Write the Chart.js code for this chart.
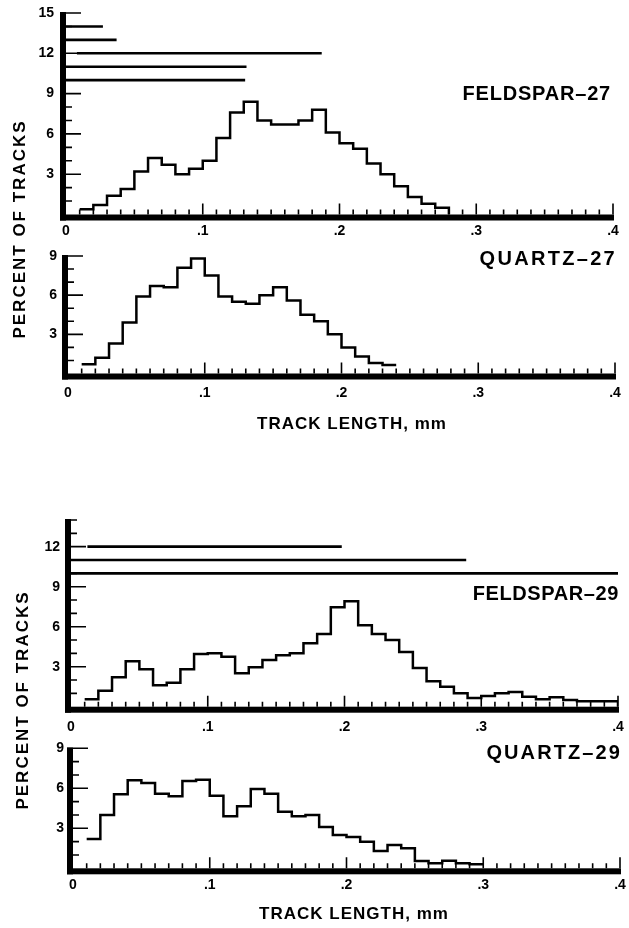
<!DOCTYPE html>
<html><head><meta charset="utf-8">
<script src="https://cdn.jsdelivr.net/npm/chart.js@4.4.1/dist/chart.umd.min.js"></script>
<style>
html,body{margin:0;padding:0;background:#fff;}
body{width:629px;height:928px;position:relative;overflow:hidden;font-family:"Liberation Sans",Arial,sans-serif;}
canvas{position:absolute;left:0;}
.t{position:absolute;font-weight:bold;color:#000;white-space:nowrap;line-height:1;}
.r{transform:translateY(-50%);}
.c{transform:translate(-50%,-50%);}
.v{transform:translate(-50%,-50%) rotate(-90deg);}
</style></head><body>
<canvas id="c1" width="629" height="260" style="top:0px"></canvas>
<canvas id="c2" width="629" height="190" style="top:230px"></canvas>
<canvas id="c3" width="629" height="260" style="top:490px"></canvas>
<canvas id="c4" width="629" height="190" style="top:720px"></canvas>

<div class="t r" style="right:18px;top:93px;font-size:20px;letter-spacing:0.8px;">FELDSPAR–27</div>
<div class="t r" style="right:12px;top:258px;font-size:20px;letter-spacing:2.3px;">QUARTZ–27</div>
<div class="t r" style="right:10px;top:593px;font-size:20px;letter-spacing:0.6px;">FELDSPAR–29</div>
<div class="t r" style="right:7px;top:752px;font-size:20px;letter-spacing:2.1px;">QUARTZ–29</div>
<div class="t c" style="left:352px;top:423px;font-size:17px;letter-spacing:1px;">TRACK LENGTH, mm</div>
<div class="t c" style="left:354px;top:913px;font-size:17px;letter-spacing:1px;">TRACK LENGTH, mm</div>
<div class="t v" style="left:19px;top:229px;font-size:17px;letter-spacing:2px;">PERCENT OF TRACKS</div>
<div class="t v" style="left:22px;top:700px;font-size:17px;letter-spacing:2px;">PERCENT OF TRACKS</div>

<script>
// Bin edges (track length, mm); bin i spans binEdges[i]..binEdges[i+1]
const binEdges = [0.01,0.02,0.03,0.04,0.05,0.06,0.07,0.08,0.09,0.10,
                  0.11,0.12,0.13,0.14,0.15,0.16,0.17,0.18,0.19,0.20,
                  0.21,0.22,0.23,0.24,0.25,0.26,0.27,0.28,0.29,0.30,
                  0.31,0.32,0.33,0.34,0.35,0.36,0.37,0.38,0.39,0.40];
const xTickLabels = ['0', '.1', '.2', '.3', '.4'];

// Percent of tracks per bin
const feldspar27 = [0.4,0.7,1.4,1.9,3.2,4.2,3.7,3.0,3.4,4.0,5.7,7.6,8.4,7.0,6.7,6.7,7.0,7.8,6.1,5.3,4.9,3.8,3.0,2.1,1.3,0.8,0.5];
const quartz27   = [0.7,1.2,2.3,3.9,5.9,6.7,6.6,8.1,8.8,7.5,5.9,5.5,5.35,6.0,6.6,5.6,4.5,4.0,3.0,2.0,1.3,0.8,0.65];
const feldspar29 = [0.55,1.2,2.2,3.4,2.8,1.6,1.8,2.8,3.95,4.0,3.75,2.5,2.95,3.5,3.85,4.0,4.75,5.45,7.45,7.9,6.1,5.45,5.0,4.1,2.9,1.9,1.5,1.0,0.65,0.8,1.0,1.1,0.75,0.55,0.7,0.5,0.4,0.4,0.4];
const quartz29   = [2.2,4.0,5.55,6.6,6.4,5.6,5.4,6.55,6.65,5.45,3.9,4.65,5.95,5.6,4.25,3.9,4.0,3.1,2.5,2.35,2.0,1.3,1.75,1.5,0.55,0.37,0.57,0.37,0.3];

// Horizontal range bars (level in percent units, from/to in mm)
const rangeLevels27 = [14, 13, 12, 11, 10];
const rangeFrom27   = [0, 0, 0.008, 0, 0];
const rangeTo27     = [0.027, 0.037, 0.187, 0.132, 0.131];
const rangeLevels29 = [12, 11, 10];
const rangeFrom29   = [0.012, 0, 0];
const rangeTo29     = [0.198, 0.289, 0.40];

const FONT = '"Liberation Sans", Arial, sans-serif';

const axisPlugin = {
  id: 'axisPlugin',
  afterDatasetsDraw(chart) {
    const {ctx} = chart; const x = chart.scales.x, y = chart.scales.y;
    const X0 = x.getPixelForValue(0), X1 = x.getPixelForValue(0.4);
    const Y0 = y.getPixelForValue(0), YT = y.getPixelForValue(y.max);
    ctx.save();
    ctx.fillStyle = '#000';
    ctx.fillRect(X0 - 6, Y0, X1 - X0 + 7, 6);
    ctx.fillRect(X0 - 6, YT - 1, 6, Y0 - YT + 7);
    ctx.strokeStyle = '#000'; ctx.lineWidth = 1.6;
    ctx.beginPath();
    y.ticks.forEach(t => {
      if (t.value <= 0) return;
      const py = y.getPixelForValue(t.value);
      const len = (t.value % 3 === 0) ? 15 : 6;
      ctx.moveTo(X0, py); ctx.lineTo(X0 + len, py);
    });
    x.ticks.forEach(t => {
      const k = Math.round(t.value * 100);
      if (k <= 0) return;
      const px = x.getPixelForValue(t.value);
      const len = (k % 10 === 0) ? 11 : 5;
      ctx.moveTo(px, Y0); ctx.lineTo(px, Y0 - len);
    });
    ctx.stroke();
    ctx.restore();
  }
};

function histPoints(values, drop) {
  const pts = values.map((v, i) => ({x: binEdges[i], y: v}));
  const n = values.length;
  pts.push({x: binEdges[n], y: values[n - 1]});
  if (drop) pts.push({x: binEdges[n], y: 0});
  return pts;
}

function makePanel(id, cfg) {
  const datasets = [{
    data: histPoints(cfg.values, cfg.drop),
    stepped: 'before', borderColor: '#000', borderWidth: 2.5, pointRadius: 0, fill: false
  }];
  (cfg.levels || []).forEach((lv, j) => {
    datasets.push({
      data: [{x: cfg.from[j], y: lv}, {x: cfg.to[j], y: lv}],
      borderColor: '#000', borderWidth: 2.6, pointRadius: 0, fill: false
    });
  });
  const tickFont = {family: FONT, size: 14, weight: 'bold'};
  new Chart(document.getElementById(id), {
    type: 'line',
    data: {datasets},
    options: {
      responsive: false, animation: false, devicePixelRatio: 1,
      layout: {padding: {left: 0, right: 629 - cfg.x04, top: cfg.yTop - cfg.top, bottom: cfg.top + cfg.h - cfg.y0 - 30}},
      plugins: {legend: {display: false}, tooltip: {enabled: false}},
      elements: {line: {tension: 0}},
      scales: {
        x: {
          type: 'linear', min: 0, max: 0.4,
          afterFit: s => { s.height = 30; },
          grid: {display: false, drawTicks: true, tickLength: cfg.xPad}, border: {display: false},
          ticks: {stepSize: 0.01, autoSkip: false, maxRotation: 0, padding: 0, color: '#000', font: tickFont,
            callback: v => { const k = Math.round(v * 100); return k % 10 === 0 ? xTickLabels[k / 10] : ''; }}
        },
        y: {
          type: 'linear', min: 0, max: cfg.ymax,
          afterFit: s => { s.width = cfg.x0; },
          grid: {display: false, drawTicks: true, tickLength: cfg.yPad}, border: {display: false},
          ticks: {stepSize: 1, autoSkip: false, padding: 0, color: '#000', font: tickFont,
            callback: v => (v > 0 && v % 3 === 0) ? String(v) : ''}
        }
      }
    },
    plugins: [axisPlugin]
  });
}

makePanel('c1', {top: 0, h: 260, x0: 66, x04: 613, yTop: 13, y0: 214.5, ymax: 15, xPad: 8, yPad: 12,
  values: feldspar27, drop: true, levels: rangeLevels27, from: rangeFrom27, to: rangeTo27});
makePanel('c2', {top: 230, h: 190, x0: 68, x04: 615, yTop: 256, y0: 373.5, ymax: 9, xPad: 11, yPad: 11,
  values: quartz27, drop: false});
makePanel('c3', {top: 490, h: 260, x0: 71, x04: 618, yTop: 520, y0: 706.7, ymax: 14, xPad: 12, yPad: 11,
  values: feldspar29, drop: true, levels: rangeLevels29, from: rangeFrom29, to: rangeTo29});
makePanel('c4', {top: 720, h: 190, x0: 73, x04: 620, yTop: 748.3, y0: 868.3, ymax: 9, xPad: 8, yPad: 9,
  values: quartz29, drop: false});
</script>
</body></html>
